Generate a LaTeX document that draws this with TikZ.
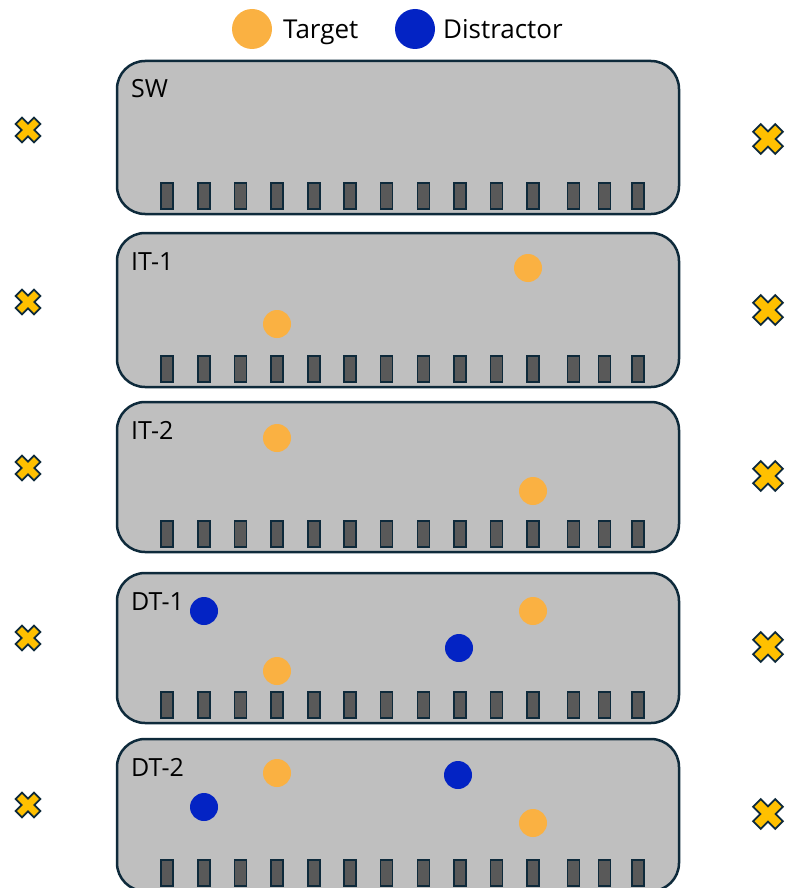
\documentclass[tikz,border=0pt]{standalone}
\usepackage{fontspec}
\setmainfont{Open Sans}
\definecolor{panelgray}{HTML}{BFBFBF}
\definecolor{bargray}{HTML}{595959}
\definecolor{darknavy}{HTML}{0E2A3B}
\definecolor{targetorange}{HTML}{FAB142}
\definecolor{distblue}{HTML}{0323C4}
\definecolor{crossyellow}{HTML}{FFC000}
\begin{document}
\begin{tikzpicture}[x=1pt,y=-1pt,
  panel/.style={draw=darknavy, line width=2.5pt, fill=panelgray, rounded corners=28pt},
  barbox/.style={draw=darknavy, line width=1.4pt, fill=bargray},
  tdot/.style={circle, fill=targetorange, minimum size=28pt, inner sep=0pt},
  ddot/.style={circle, fill=distblue, minimum size=28pt, inner sep=0pt},
  lbl/.style={font=\fontsize{25}{30}\selectfont, anchor=base west, inner sep=0pt},
  legtext/.style={font=\fontsize{26}{31}\selectfont, anchor=base west, inner sep=0pt},
  crossmark/.pic={\draw[fill=crossyellow, draw=darknavy, line width=1.8pt, rotate=45]
     (4.5,13) -- (4.5,4.5) -- (13,4.5) -- (13,-4.5) -- (4.5,-4.5) -- (4.5,-13) -- (-4.5,-13) -- (-4.5,-4.5)
     -- (-13,-4.5) -- (-13,4.5) -- (-4.5,4.5) -- (-4.5,13) -- cycle;}
]
\useasboundingbox (0,0) rectangle (785,888);
\clip (0,0) rectangle (785,888);

% legend
\node[tdot, minimum size=40pt] (legt) at (252,29) {};
\node[legtext] (legtl) at (283,39) {Target};
\node[ddot, minimum size=40pt] (legd) at (415,29) {};
\node[legtext] (legdl) at (443,39) {Distractor};

% panels
\foreach \t/\b/\lab/\nm in {61/214/SW/sw, 233/387/IT-1/itone, 402/552/IT-2/ittwo, 573/723/DT-1/dtone, 739/891/DT-2/dttwo}{
  \draw[panel] (117,\t) rectangle (679,\b);
  \node[lbl] (\nm) at (131,\t+37) {\lab};
  \foreach \bx in {167,204,240.5,277,314,350,386.5,423.5,460,496.5,533,573.5,604.5,638}{
    \draw[barbox] (\bx-6,\b-31) rectangle (\bx+6,\b-5);
  }
}

% IT-1
\node[tdot] (itonea) at (528,268) {};
\node[tdot] (itoneb) at (277,324) {};
% IT-2
\node[tdot] (ittwoa) at (277,438) {};
\node[tdot] (ittwob) at (533,491) {};
% DT-1
\node[ddot] (dtonea) at (204,611) {};
\node[tdot] (dtoneb) at (533,611) {};
\node[ddot] (dtonec) at (459,648) {};
\node[tdot] (dtoned) at (277,671) {};
% DT-2
\node[tdot] (dttwoa) at (277,773) {};
\node[ddot] (dttwob) at (458,775) {};
\node[ddot] (dttwoc) at (204,807) {};
\node[tdot] (dttwod) at (533,823) {};

% crosses
\foreach \cy in {130,302,468,638,805}{
  \pic at (28,\cy) {crossmark};
}
\foreach \cy in {139,310,476,647,814}{
  \pic[scale=1.2] at (768,\cy) {crossmark};
}
\end{tikzpicture}
\end{document}
